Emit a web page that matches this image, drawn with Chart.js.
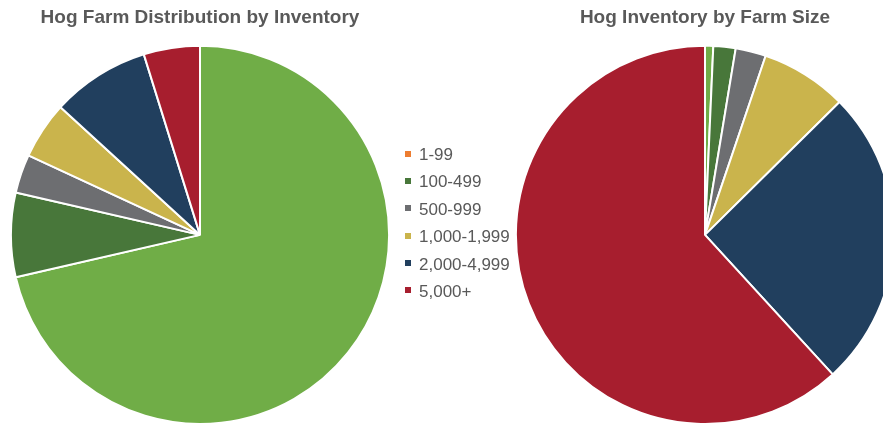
<!DOCTYPE html>
<html>
<head>
<meta charset="utf-8">
<script src="https://cdn.jsdelivr.net/npm/chart.js@4/dist/chart.umd.min.js"></script>
<style>
    html, body { margin: 0; padding: 0; background: #ffffff; }
    body { width: 883px; height: 423px; overflow: hidden; position: relative; font-family: "Liberation Sans", Arial, sans-serif; }
    .chartBox { position: absolute; top: 0; width: 400px; height: 425px; }
    #legend { position: absolute; left: 405px; top: 141px; }
    .legendItem { height: 27.4px; line-height: 27.4px; font-size: 17px; color: #595959; white-space: nowrap; }
    .legendItem span { display: inline-block; width: 6px; height: 6px; margin-right: 8px; vertical-align: middle; position: relative; top: -2px; }
</style>
</head>
<body>
<div class="chartBox" style="left: 0px;"><canvas id="farmsChart"></canvas></div>
<div class="chartBox" style="left: 505px;"><canvas id="inventoryChart"></canvas></div>
<div id="legend"></div>
<script>
const categories = ["1-99", "100-499", "500-999", "1,000-1,999", "2,000-4,999", "5,000+"];
// share of farms, percent
const farmShares = [71.4, 7.2, 3.3, 4.9, 8.4, 4.8];
// share of hog inventory, percent
const inventoryShares = [0.7, 1.9, 2.6, 7.4, 25.6, 61.8];

const sliceColors = ["#70ad47", "#48773a", "#6d6e71", "#cab44c", "#213f5e", "#a71e2e"];
const legendColors = ["#ed7d31", "#48773a", "#6d6e71", "#cab44c", "#213f5e", "#a71e2e"];

function pieConfig(title, values) {
    return {
        type: "pie",
        data: {
            labels: categories,
            datasets: [
                {
                    data: values,
                    backgroundColor: sliceColors,
                    borderColor: "#ffffff",
                    borderWidth: 2,
                },
            ],
        },
        options: {
            responsive: true,
            maintainAspectRatio: false,
            animation: {
                duration: 0,
            },
            layout: {
                padding: 0,
            },
            plugins: {
                legend: {
                    display: false,
                },
                tooltip: {
                    enabled: false,
                },
                title: {
                    display: true,
                    text: title,
                    color: "#595959",
                    font: {
                        family: "'Liberation Sans', Arial, sans-serif",
                        size: 19,
                        weight: "bold",
                    },
                    padding: { top: 6, bottom: 16 },
                },
            },
        },
    };
}

new Chart(document.getElementById("farmsChart"), pieConfig("Hog Farm Distribution by Inventory", farmShares));
new Chart(document.getElementById("inventoryChart"), pieConfig("Hog Inventory by Farm Size", inventoryShares));

const legend = document.getElementById("legend");
for (let i=0; i<categories.length; i++) {
    const item = document.createElement("div");
    item.className = "legendItem";
    const box = document.createElement("span");
    box.style.background = legendColors[i];
    item.appendChild(box);
    item.appendChild(document.createTextNode(categories[i]));
    legend.appendChild(item);
}
</script>
</body>
</html>
